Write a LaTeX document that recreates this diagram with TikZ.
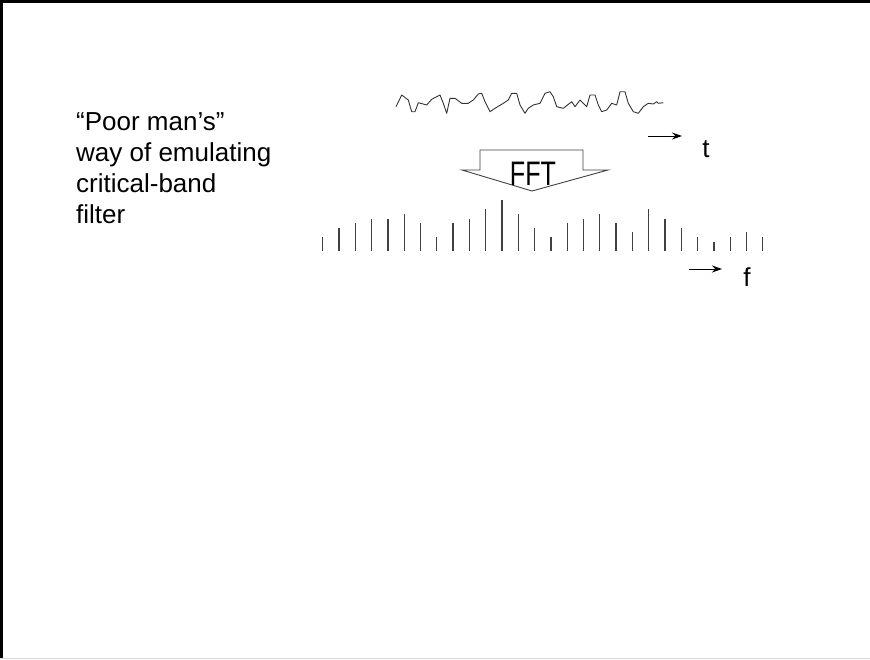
\documentclass[tikz,border=0pt]{standalone}
\usepackage{fontspec}
\setmainfont{Liberation Sans}
\usetikzlibrary{arrows.meta, positioning}

\begin{document}
\begin{tikzpicture}[
        x=1pt, y=-1pt,
        note/.style={
            inner sep=0pt,
            align=left,
            anchor=north west,
            font=\fontsize{26}{31}\selectfont
        },
        axislabel/.style={
            inner sep=0pt,
            anchor=base,
            font=\fontsize{26}{31}\selectfont
        },
        fftlabel/.style={
            inner sep=0pt,
            font=\fontsize{34}{34}\selectfont
        },
        wave/.style={
            draw=black!80,
            line width=0.9pt,
            line join=round
        },
        bin/.style={
            draw=black!75,
            line width=1.3pt
        },
        fftarrow/.style={
            draw=black!75,
            line width=0.9pt,
            fill=white
        },
        arrow/.style={
            -{Stealth[length=10pt, width=7pt]},
            line width=1pt,
            draw=black
        }
    ]
        \useasboundingbox (0,0) rectangle (870,659);
        \draw [line width=3pt] (1.5,659) -- (1.5,1.5) -- (870,1.5);
        \draw [black!15] (0,658.5) -- (870,658.5);

        \node (caption) [note] at (76,112) {``Poor man's''\\way of emulating\\critical-band\\filter};

        \draw [wave] plot coordinates {
            (396,106.7) (401.7,95) (408.3,100) (411.7,111.7) (415,111.7) (418.3,102.7)
            (426.7,105) (431.7,99.3) (440,95) (443.3,103.3) (446.7,113.3) (450,98.3)
            (455,98.3) (461.7,103.3) (468.3,103.3) (473.3,100) (478.3,94) (481.7,93.3)
            (485,101.7) (490,111.7) (495,108.3) (503.3,103.3) (508.3,100) (511.7,93.3)
            (516.7,93.3) (520,105) (525,113.3) (528.3,108.3) (533.3,105) (540,103.3)
            (545,93.3) (550,91.7) (553.3,96.7) (556.7,106.7) (563.3,108.3) (571.7,101.7)
            (575,106.7) (580,100) (586.7,106.7) (590,95) (595,95) (598.3,105)
            (601.7,111.7) (606.7,110) (611.7,103.3) (616.7,105) (620,91.7) (625,91.7)
            (628.3,103.3) (633.3,111.7) (638.3,113.3) (643.3,106.7) (648.3,103.3)
            (653.3,104) (656.7,101.7) (658.3,103.3) (663.3,102.7)};

        \coordinate (tstart) at (648,136);
        \coordinate (tend) at (682,136);
        \draw [arrow] (tstart) -- (tend);
        \node (tlabel) [axislabel] at (706,157) {t};

        \draw [fftarrow] (480,150) -- (583,150) -- (583,170) -- (608,170)
            -- (532,191) -- (462,170) -- (480,170) -- cycle;
        \node (fft) [fftlabel] at (533,174) {\scalebox{0.74}[1]{FFT}};

        \foreach \h [count=\i from 0] in {14.3,23.3,28,32,32,37,28,14.3,28,32,42,51,37,23.3,
            14.3,28,32,37,28,18.7,42,32,23.3,14.3,9.3,14.3,18.7,14.3}
            \draw [bin] ({322.7+16.3*\i},251) -- ++(0,-\h);

        \coordinate (fstart) at (689,269);
        \coordinate (fend) at (722,269);
        \draw [arrow] (fstart) -- (fend);
        \node (flabel) [axislabel] at (747,286) {f};
\end{tikzpicture}
\end{document}
